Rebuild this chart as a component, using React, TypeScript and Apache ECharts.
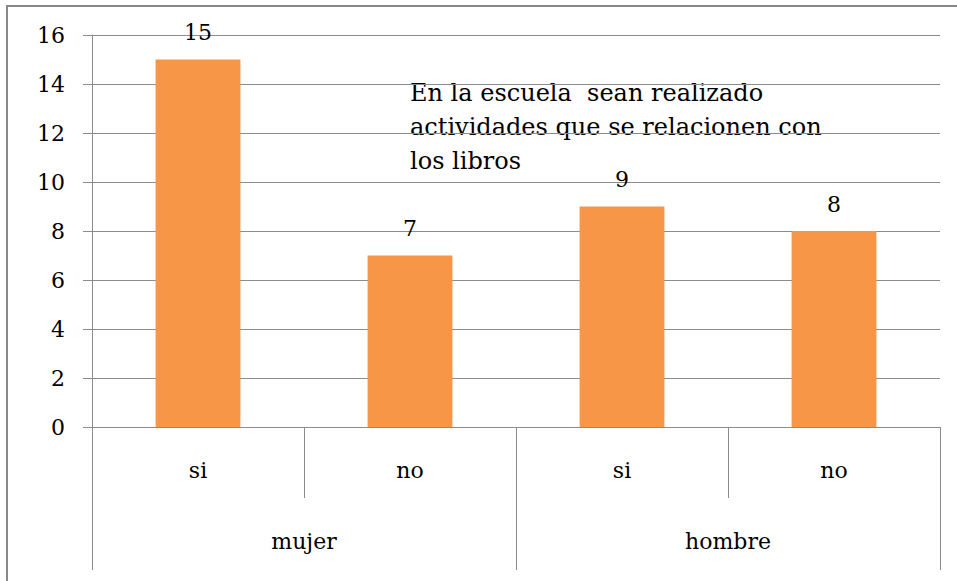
import React, { useEffect, useRef } from "react";
import * as echarts from "echarts";

const subCategories = ["si", "no", "si", "no"];
const groupCategories = ["mujer", "hombre"];
const values = [15, 7, 9, 8];
const yTicks = { min: 0, max: 16, interval: 2 };
const titleLines = [
  "En la escuela  sean realizado",
  "actividades que se relacionen con",
  "los libros",
];

const FONT = "'DejaVu Serif', 'Liberation Serif', serif";
const GRID_COLOR = "#8c8c8c";
const BAR_COLOR = "#F79646";

export default function App() {
  const ref = useRef<HTMLDivElement>(null);
  useEffect(() => {
    document.body.style.margin = "0";
    const chart = echarts.init(ref.current!, null, { renderer: "svg" });
    chart.setOption({
      animation: false,
      backgroundColor: "#ffffff",
      grid: { left: 92, right: 17, top: 35, bottom: 154 },
      graphic: [
        {
          type: "rect",
          shape: { x: 7, y: 6, width: 960, height: 600 },
          style: { fill: "none", stroke: "#888888", lineWidth: 2 },
          silent: true,
          z: -1,
        },
        {
          type: "text",
          left: 410,
          top: 76,
          style: {
            text: titleLines.join("\n"),
            font: `24px ${FONT}`,
            fill: "#000000",
            lineHeight: 34,
          },
        },
      ],
      xAxis: [
        {
          type: "category",
          data: subCategories,
          position: "bottom",
          axisLine: { show: true, lineStyle: { color: GRID_COLOR, width: 1 } },
          axisTick: { show: true, interval: 0, length: 71, lineStyle: { color: GRID_COLOR } },
          axisLabel: { fontFamily: FONT, fontSize: 22, color: "#000", margin: 32 },
          splitLine: { show: false },
        },
        {
          type: "category",
          data: groupCategories,
          position: "bottom",
          axisLine: { show: false },
          axisTick: { show: true, interval: 0, length: 143, lineStyle: { color: GRID_COLOR } },
          axisLabel: { fontFamily: FONT, fontSize: 22, color: "#000", margin: 103 },
          splitLine: { show: false },
        },
      ],
      yAxis: {
        type: "value",
        min: yTicks.min,
        max: yTicks.max,
        interval: yTicks.interval,
        axisLine: { show: true, lineStyle: { color: GRID_COLOR, width: 1 } },
        axisTick: { show: true, length: 9, lineStyle: { color: GRID_COLOR } },
        axisLabel: { fontFamily: FONT, fontSize: 22, color: "#000", margin: 27 },
        splitLine: { show: true, lineStyle: { color: GRID_COLOR, width: 1 } },
      },
      series: [
        {
          type: "bar",
          xAxisIndex: 0,
          data: values,
          barWidth: "40%",
          itemStyle: { color: BAR_COLOR },
          label: {
            show: true,
            position: "top",
            distance: 16,
            fontFamily: FONT,
            fontSize: 22,
            color: "#000",
          },
        },
      ],
    });
    return () => chart.dispose();
  }, []);
  return <div ref={ref} style={{ width: 957, height: 581 }} />;
}
